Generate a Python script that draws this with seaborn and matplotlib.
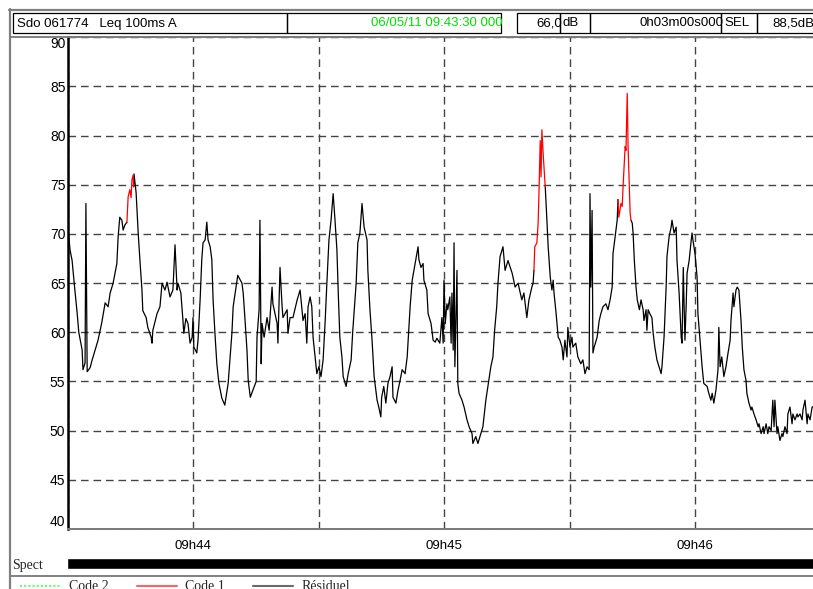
import numpy as np
import pandas as pd
import matplotlib
matplotlib.use("Agg")
import matplotlib.pyplot as plt
import seaborn as sns
from matplotlib.patches import Rectangle

# ---------------- data (seconds after 09:43:30, Leq 100ms A in dB) ----------------
elapsed_s = [
    0.0, 0.1, 0.6, 1.1, 1.6, 2.3, 2.7, 3.5, 3.7, 4.2, 4.4, 4.7, 5.4, 5.9, 6.6, 7.3, 8.2, 9.0, 9.7, 10.2,
    10.9, 11.8, 12.1, 12.5, 13.0, 13.3, 13.7, 14.2, 14.5, 14.9, 15.2, 15.4, 15.7, 15.8, 15.9, 16.4, 16.9, 17.3, 17.8, 18.0,
    18.8, 19.2, 20.0, 20.2, 20.4, 21.4, 22.1, 22.6, 23.3, 23.8, 24.5, 25.2, 25.7, 26.2, 26.4, 27.1, 27.6, 27.8, 28.3, 28.8,
    29.3, 29.8, 30.0, 30.2, 30.9, 31.2, 31.7, 32.1, 32.4, 32.9, 33.3, 33.6, 34.1, 34.5, 34.8, 35.3, 35.7, 36.2, 36.9, 37.6,
    38.4, 39.3, 39.6, 40.3, 40.7, 41.7, 42.0, 42.4, 42.9, 43.2, 43.7, 44.3, 45.1, 45.3, 45.8, 46.0, 46.3, 46.5, 47.0, 47.7,
    48.2, 48.9, 49.1, 50.1, 50.3, 50.8, 51.3, 51.5, 52.5, 52.7, 53.2, 53.9, 54.9, 55.6, 56.3, 56.8, 57.2, 57.5, 58.0, 58.4,
    58.7, 59.2, 59.6, 60.1, 60.6, 61.1, 61.6, 62.0, 62.5, 63.0, 63.5, 63.9, 64.4, 64.7, 65.1, 65.6, 65.9, 66.6, 67.1, 67.8,
    68.2, 69.0, 69.4, 69.9, 70.4, 70.9, 71.6, 71.8, 72.3, 72.8, 73.3, 74.0, 74.4, 74.9, 75.1, 75.6, 76.1, 76.6, 77.1, 77.6,
    77.8, 78.5, 79.0, 79.5, 80.0, 80.7, 81.2, 81.9, 82.4, 83.1, 83.8, 84.0, 84.5, 85.0, 85.2, 85.9, 86.2, 86.9, 87.4, 87.9,
    88.3, 89.0, 89.5, 89.8, 90.0, 90.3, 90.7, 90.9, 91.4, 91.7, 91.9, 92.2, 92.4, 92.6, 93.1, 93.3, 93.6, 94.3, 94.8, 95.5,
    96.0, 96.7, 96.9, 97.6, 98.1, 98.8, 99.3, 100.0, 100.5, 101.2, 101.7, 102.1, 102.6, 102.9, 103.4, 104.1, 104.6, 105.3, 106.3, 107.0,
    107.7, 108.6, 109.1, 109.8, 110.3, 111.0, 111.3, 111.5, 111.7, 112.2, 112.5, 112.7, 113.0, 113.2, 113.4, 113.7, 113.9, 114.2, 114.6, 114.9,
    115.4, 115.8, 116.1, 116.3, 116.8, 117.3, 117.7, 118.2, 118.5, 118.9, 119.4, 119.6, 120.1, 120.6, 120.8, 121.5, 122.0, 122.7, 123.2, 123.7,
    124.2, 124.7, 124.9, 125.1, 125.4, 125.6, 125.9, 126.6, 127.1, 127.5, 128.0, 128.7, 129.2, 129.7, 130.2, 130.4, 130.9, 131.4, 131.6, 131.8,
    132.3, 132.6, 132.8, 133.3, 133.5, 133.8, 134.0, 134.3, 134.5, 134.7, 135.0, 135.2, 135.5, 135.9, 136.2, 136.7, 137.1, 137.6, 137.8, 138.3,
    138.5, 138.8, 139.2, 139.7, 140.0, 140.4, 140.9, 141.4, 141.9, 142.1, 142.6, 143.1, 143.3, 143.8, 144.3, 144.5, 145.0, 145.5, 145.7, 146.2,
    146.7, 146.9, 147.2, 147.4, 147.6, 147.9, 148.1, 148.6, 149.1, 149.3, 149.5, 150.0, 150.5, 150.7, 151.2, 151.7, 152.1, 152.9, 153.3, 153.8,
    154.1, 154.5, 155.0, 155.5, 155.7, 156.0, 156.4, 156.9, 157.4, 157.9, 158.4, 158.6, 159.1, 159.3, 159.8, 160.1, 160.5, 161.0, 161.3, 161.7,
    162.2, 162.4, 162.9, 163.4, 163.6, 164.1, 164.6, 165.1, 165.3, 165.8, 166.3, 166.5, 167.0, 167.4, 167.7, 168.2, 168.6, 168.9, 169.1, 169.6,
    169.8, 170.3, 170.8, 171.0, 171.5, 172.0, 172.2, 172.7, 173.2, 173.4, 173.9, 174.4, 174.6, 175.1, 175.6, 175.8, 176.3, 176.8, 177.0, 177.5,
    178.0, 178.7, 180.0,
]
leq_db = [
    70.5, 70.7, 68.4, 67.3, 65.0, 62.0, 60.0, 58.2, 56.2, 56.9, 73.1, 56.0, 56.4, 57.2, 58.2, 59.2, 61.0, 63.0, 62.6, 64.0,
    65.0, 67.0, 69.7, 71.7, 71.4, 70.4, 70.9, 71.2, 73.8, 74.5, 73.7, 75.5, 76.0, 74.8, 76.1, 74.2, 70.1, 67.4, 64.3, 62.2,
    61.5, 60.5, 59.5, 58.9, 60.2, 61.9, 62.6, 65.0, 64.3, 65.1, 63.6, 64.3, 68.9, 64.3, 65.0, 64.0, 61.2, 59.9, 61.4, 60.9,
    58.9, 59.5, 61.5, 58.5, 57.9, 59.2, 63.3, 67.4, 69.1, 69.4, 71.2, 69.4, 68.7, 67.4, 63.3, 59.5, 56.8, 54.8, 53.3, 52.6,
    54.8, 59.9, 62.6, 64.6, 65.8, 65.0, 64.0, 61.5, 58.2, 55.1, 53.4, 54.1, 55.0, 59.5, 62.3, 71.4, 56.8, 60.9, 59.5, 61.5,
    60.2, 64.6, 62.9, 60.9, 58.9, 66.6, 62.6, 61.5, 62.3, 59.9, 61.5, 61.5, 63.3, 64.3, 61.2, 61.9, 58.9, 62.6, 63.6, 62.6,
    59.5, 57.5, 55.8, 56.5, 55.5, 57.2, 61.2, 65.0, 69.4, 71.4, 74.1, 71.7, 68.4, 64.3, 59.5, 57.5, 55.5, 54.5, 55.8, 57.2,
    60.2, 65.0, 69.1, 70.1, 73.1, 70.7, 69.4, 66.3, 62.3, 59.2, 55.5, 53.1, 52.4, 51.4, 53.4, 54.5, 52.8, 54.8, 55.5, 56.5,
    53.4, 52.8, 54.1, 55.1, 56.2, 55.8, 57.5, 62.6, 65.3, 67.0, 68.7, 67.4, 66.6, 67.0, 65.3, 64.3, 61.9, 60.9, 59.2, 59.0,
    59.4, 58.9, 61.5, 58.9, 65.3, 60.9, 62.9, 62.3, 63.6, 58.9, 64.0, 58.2, 69.1, 56.5, 66.3, 54.8, 53.8, 53.1, 52.4, 51.1,
    50.4, 49.7, 48.7, 49.4, 48.7, 49.7, 50.4, 53.1, 54.5, 56.5, 57.5, 60.2, 62.6, 65.0, 67.7, 68.7, 66.3, 67.3, 66.0, 64.6,
    65.0, 63.3, 64.0, 61.5, 63.3, 64.6, 65.0, 66.3, 68.7, 69.1, 71.1, 74.1, 79.5, 75.8, 80.6, 78.2, 76.8, 74.8, 71.4, 68.7,
    65.6, 64.3, 65.3, 64.0, 61.9, 59.5, 59.2, 58.5, 57.2, 59.2, 57.5, 60.5, 58.5, 59.5, 58.5, 58.9, 57.5, 56.8, 57.2, 55.8,
    56.5, 56.2, 74.1, 64.6, 72.4, 57.9, 58.5, 59.5, 61.2, 61.9, 62.6, 62.9, 62.3, 63.3, 64.6, 68.0, 69.7, 71.4, 73.5, 71.7,
    73.1, 72.8, 74.8, 78.9, 78.5, 84.3, 78.9, 74.8, 72.1, 71.4, 71.1, 70.1, 67.3, 64.6, 63.3, 62.3, 63.3, 62.3, 61.2, 62.3,
    60.2, 62.3, 61.9, 61.5, 59.9, 58.5, 57.2, 56.5, 55.8, 56.5, 59.5, 64.6, 67.7, 69.7, 70.7, 71.4, 70.1, 70.7, 67.3, 64.0,
    59.5, 58.9, 66.6, 62.6, 59.2, 62.9, 66.0, 67.3, 69.4, 70.1, 69.4, 68.0, 65.6, 61.9, 59.2, 56.5, 54.8, 54.5, 53.8, 53.1,
    53.8, 52.8, 54.1, 56.2, 60.5, 56.5, 57.5, 55.5, 56.5, 57.9, 59.2, 61.2, 64.0, 62.6, 64.3, 64.6, 64.3, 61.2, 58.5, 56.2,
    55.1, 53.8, 52.8, 52.1, 52.4, 51.7, 51.1, 50.4, 50.7, 49.7, 50.4, 49.7, 50.7, 49.7, 50.4, 50.0, 53.1, 50.4, 53.1, 49.7,
    50.4, 49.0, 49.7, 49.4, 50.4, 49.7, 51.7, 52.4, 50.7, 51.7, 51.1, 51.7, 51.4, 51.7, 51.1, 52.1, 53.1, 50.7, 51.7, 51.1,
    52.4, 52.5, 52.0,
]
code1_start_s = [14.2, 111.5, 131.6]
code1_end_s = [15.8, 114.2, 134.7]
spect_start_s = [0.0]
spect_end_s = [180.0]
x_tick_s = [0, 30, 60, 90, 120, 150, 180]
x_tick_labels = ["", "09h44", "", "09h45", "", "09h46", ""]
y_ticks = [40, 45, 50, 55, 60, 65, 70, 75, 80, 85, 90]
header_fields = ["Sdo 061774   Leq 100ms A", "06/05/11 09:43:30 000", "66,0", "dB",
                 "0h03m00s000", "SEL", "88,5dB"]
legend_labels = ["Code 2", "Code 1", "Résiduel"]
spect_label = "Spect"

# ---------------- build table ----------------
t = np.array(elapsed_s)
v = np.array(leq_db)
edges = [t[0]] + [e for pair in zip(code1_start_s, code1_end_s) for e in pair] + [t[-1]]
parts = []
for k in range(len(edges) - 1):
    lo, hi = edges[k], edges[k + 1]
    m = (t >= lo - 1e-9) & (t <= hi + 1e-9)
    parts.append(pd.DataFrame({"t": t[m], "level": v[m], "seg": k,
                               "code": "Code 1" if k % 2 == 1 else "Résiduel"}))
df = pd.concat(parts, ignore_index=True)

sns.set_style("white")
sans = ["Liberation Sans Narrow", "Liberation Sans", "DejaVu Sans"]
serif = ["Liberation Serif", "DejaVu Serif"]
plt.rcParams["font.family"] = sans

W, H = 813, 589
fig = plt.figure(figsize=(W / 100, H / 100), dpi=100)
fig.patch.set_facecolor("white")

# pixel-space overlay for frame / header / legend
ov = fig.add_axes([0, 0, 1, 1], zorder=0)
ov.set_xlim(0, W)
ov.set_ylim(H, 0)
ov.axis("off")

ax_l, ax_r, ax_t, ax_b = 67.5, 67.5 + 6 * 125.5, 37.3, 529.0
ax = fig.add_axes([ax_l / W, (H - ax_b) / H, (ax_r - ax_l) / W, (ax_b - ax_t) / H], zorder=2)

sns.lineplot(data=df, x="t", y="level", hue="code", units="seg", estimator=None,
             sort=False, palette={"Résiduel": "black", "Code 1": "#ff0000"},
             linewidth=0.9, legend=False, ax=ax)
ax.set_xlim(0, 180)
ax.set_ylim(40, 90)
ax.set_xlabel("")
ax.set_ylabel("")
ax.set_xticks(x_tick_s)
ax.set_xticklabels(x_tick_labels)
ax.set_yticks(y_ticks)
ax.set_yticklabels([str(y) for y in y_ticks])
dash = (0, (5.5, 3.5))
ax.grid(True, axis="both", linestyle=dash, color="#444444", linewidth=1.0)
ax.set_axisbelow(True)
ax.tick_params(axis="y", length=0, pad=1.5, labelsize=10, colors="black")
ax.tick_params(axis="x", direction="out", length=5, width=1.2, color="#808080",
               pad=3, labelsize=9.5, labelcolor="black")
ylabs = ax.get_yticklabels()
ylabs[0].set_va("bottom")
ylabs[-1].set_va("top")
ax.spines["left"].set_color("black")
ax.spines["left"].set_linewidth(1.8)
for s in ["top", "bottom"]:
    ax.spines[s].set_color("#7a7a7a")
    ax.spines[s].set_linewidth(1.4)
ax.spines["right"].set_visible(False)

# spectrum availability bar
sp_t, sp_b = 558.0, 569.0
ax_sp = fig.add_axes([66 / W, (H - sp_b) / H, (ax_r - 66) / W, (sp_b - sp_t) / H], zorder=2)
sp_df = pd.DataFrame({"start": spect_start_s, "dur": np.subtract(spect_end_s, spect_start_s), "row": ["Spect"]})
ax_sp.barh(sp_df["row"], sp_df["dur"], left=sp_df["start"], height=1.0, color="black")
ax_sp.set_xlim(-0.35, 180)
ax_sp.set_ylim(-0.5, 0.5)
ax_sp.axis("off")
ov.text(12, 565, spect_label, fontsize=10, family=serif, va="center", ha="left")

# outer frame lines
gray = "#808080"
ov.plot([9, W], [9.5, 9.5], color=gray, lw=1.6)
ov.plot([9.5, 9.5], [9, H], color=gray, lw=1.6)
ov.plot([10, ax_l], [ax_t, ax_t], color=gray, lw=1.4)
ov.plot([10, W], [576, 576], color=gray, lw=1.4)

# header boxes
boxes = [(13, 287), (287, 501), (517, 560), (560, 590), (590, 721), (721, 757), (757, 840)]
text_x = [17, 503, 562, 562, 723, 724, 814]
aligns = ["left", "right", "right", "left", "right", "left", "right"]
colors = ["black", "#00e000", "black", "black", "black", "black", "black"]
hy0, hy1 = 13, 33
for (x0, x1), xt, txt, al, c in zip(boxes, text_x, header_fields, aligns, colors):
    r = Rectangle((x0, hy0), x1 - x0, hy1 - hy0, fill=False, edgecolor="black", lw=0.9)
    ov.add_patch(r)
    tt = ov.text(xt, (hy0 + hy1) / 2 + 0.5, txt, ha=al, va="center", fontsize=9.5, color=c)
    tt.set_clip_path(r)

# legend row
leg_y = 586
ov.plot([20, 60], [leg_y, leg_y], color="#66ff66", lw=1.5, ls=(0, (1, 1)))
ov.plot([137, 177], [leg_y, leg_y], color="#ff6464", lw=1.5)
ov.plot([253, 293], [leg_y, leg_y], color="#6a6a6a", lw=1.5)
for xt, lab in zip([69, 185, 302], legend_labels):
    ov.text(xt, 580, lab, fontsize=10, family=serif, va="top", ha="left")

fig.savefig("out.png", dpi=100)
